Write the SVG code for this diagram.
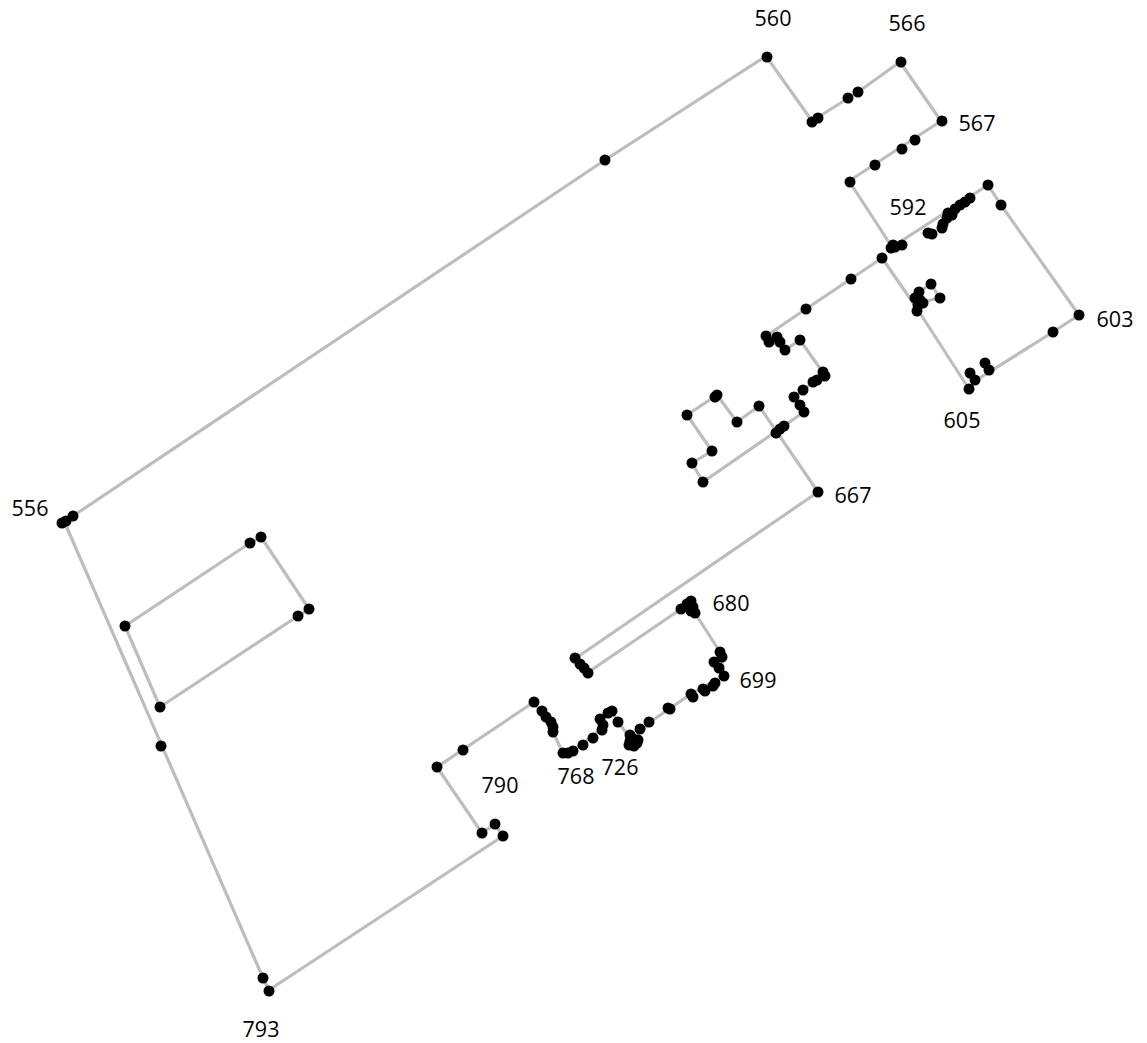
<svg xmlns="http://www.w3.org/2000/svg" width="1147" height="1043" viewBox="0 0 1147 1043">
<style>
.e{fill:none;stroke:#bdbdbd;stroke-width:3.2;stroke-linejoin:round}
.n circle{fill:#000}
.n text{font-family:"Open Sans","Noto Sans",sans-serif;font-size:21.5px;fill:#000;text-anchor:middle}
</style>
<rect width="1147" height="1043" fill="#fff"/>
<g id="connectors">
<path class="e" d="M64,521 L73,516 L605,160 L766,56 L812,121 L858,92 L900,62 L941,121 L849,181 L892,247 L988,185 L1001,205 L1079,315 L1053,332 L975,381 L969,389 L918,310 L882,258 L806,309 L766,336 L770,341 L785,350 L800,340 L824,374 L794,397 L804,412 L703,482 L692,463 L712,451 L687,415 L717,395 L737,422 L759,406 L818,492 L576,658 L587,673 L681,609 L690,602 L695,613 L720,652 L724,676 L691,694 L650,722 L632,740 L618,722 L612,711 L600,719 L603,728 L573,751 L563,753 L553,732 L534,702 L437,767 L482,833 L495,824 L503,836 L269,990 L263,978 Z"/>
<path class="e" d="M921,302 L940,298 L931,284 L919,292"/>
<path class="e" d="M125,626 L250,543 L261,537 L309,609 L298,616 L160,707 Z"/>
</g>
<g class="n">
<g id="n556"><circle cx="62" cy="523" r="5.5"/><circle cx="66" cy="521" r="5.5"/><circle cx="73" cy="516" r="5.5"/><text x="30" y="516">556</text></g>
<g id="n557"><circle cx="605" cy="160" r="5.5"/></g>
<g id="n560"><circle cx="767" cy="57" r="5.5"/><text x="773" y="26">560</text></g>
<g id="n561"><circle cx="812" cy="122" r="5.5"/><circle cx="818" cy="118" r="5.5"/></g>
<g id="n563"><circle cx="848" cy="98" r="5.5"/><circle cx="858" cy="92" r="5.5"/></g>
<g id="n566"><circle cx="901" cy="62" r="5.5"/><text x="907" y="31">566</text></g>
<g id="n567"><circle cx="942" cy="121" r="5.5"/><text x="977" y="131">567</text></g>
<g id="n570"><circle cx="915" cy="140" r="5.5"/><circle cx="902" cy="149" r="5.5"/><circle cx="875" cy="165" r="5.5"/><circle cx="850" cy="182" r="5.5"/></g>
<g id="n592"><circle cx="891" cy="248" r="5.5"/><circle cx="893" cy="245" r="5.5"/><circle cx="895" cy="247" r="5.5"/><circle cx="902" cy="245" r="5.5"/><circle cx="928" cy="233" r="5.5"/><circle cx="932" cy="234" r="5.5"/><circle cx="942" cy="228" r="5.5"/><circle cx="943" cy="224" r="5.5"/><circle cx="947" cy="218" r="5.5"/><circle cx="948" cy="213" r="5.5"/><circle cx="952" cy="215" r="5.5"/><circle cx="955" cy="209" r="5.5"/><circle cx="960" cy="205" r="5.5"/><circle cx="965" cy="202" r="5.5"/><circle cx="970" cy="198" r="5.5"/><text x="908" y="215">592</text></g>
<g id="n600"><circle cx="988" cy="185" r="5.5"/><circle cx="1001" cy="205" r="5.5"/></g>
<g id="n603"><circle cx="1079" cy="315" r="5.5"/><circle cx="1053" cy="332" r="5.5"/><text x="1115" y="327">603</text></g>
<g id="n605"><circle cx="985" cy="363" r="5.5"/><circle cx="989" cy="370" r="5.5"/><circle cx="970" cy="373" r="5.5"/><circle cx="975" cy="380" r="5.5"/><circle cx="969" cy="389" r="5.5"/><text x="962" y="428">605</text></g>
<g id="n610"><circle cx="931" cy="284" r="5.5"/><circle cx="940" cy="298" r="5.5"/><circle cx="919" cy="292" r="5.5"/><circle cx="915" cy="298" r="5.5"/><circle cx="920" cy="300" r="5.5"/><circle cx="918" cy="305" r="5.5"/><circle cx="917" cy="311" r="5.5"/><circle cx="923" cy="303" r="5.5"/></g>
<g id="n620"><circle cx="882" cy="258" r="5.5"/><circle cx="851" cy="279" r="5.5"/><circle cx="806" cy="309" r="5.5"/></g>
<g id="n630"><circle cx="766" cy="336" r="5.5"/><circle cx="769" cy="342" r="5.5"/><circle cx="777" cy="337" r="5.5"/><circle cx="780" cy="342" r="5.5"/><circle cx="785" cy="350" r="5.5"/><circle cx="800" cy="340" r="5.5"/></g>
<g id="n640"><circle cx="823" cy="372" r="5.5"/><circle cx="825" cy="376" r="5.5"/><circle cx="813" cy="382" r="5.5"/><circle cx="817" cy="380" r="5.5"/><circle cx="803" cy="390" r="5.5"/><circle cx="794" cy="397" r="5.5"/><circle cx="800" cy="405" r="5.5"/><circle cx="804" cy="412" r="5.5"/></g>
<g id="n650"><circle cx="776" cy="433" r="5.5"/><circle cx="780" cy="429" r="5.5"/><circle cx="784" cy="426" r="5.5"/><circle cx="759" cy="406" r="5.5"/><circle cx="737" cy="422" r="5.5"/><circle cx="717" cy="395" r="5.5"/><circle cx="715" cy="397" r="5.5"/><circle cx="687" cy="415" r="5.5"/><circle cx="712" cy="451" r="5.5"/><circle cx="692" cy="463" r="5.5"/><circle cx="703" cy="482" r="5.5"/></g>
<g id="n667"><circle cx="818" cy="492" r="5.5"/><text x="853" y="503">667</text></g>
<g id="n670"><circle cx="575" cy="658" r="5.5"/><circle cx="580" cy="664" r="5.5"/><circle cx="584" cy="668" r="5.5"/><circle cx="588" cy="673" r="5.5"/></g>
<g id="n680"><circle cx="681" cy="609" r="5.5"/><circle cx="687" cy="604" r="5.5"/><circle cx="691" cy="601" r="5.5"/><circle cx="693" cy="607" r="5.5"/><circle cx="695" cy="613" r="5.5"/><circle cx="691" cy="611" r="5.5"/><text x="731" y="611">680</text></g>
<g id="n699"><circle cx="720" cy="652" r="5.5"/><circle cx="722" cy="657" r="5.5"/><circle cx="714" cy="662" r="5.5"/><circle cx="719" cy="668" r="5.5"/><circle cx="724" cy="676" r="5.5"/><circle cx="715" cy="683" r="5.5"/><circle cx="713" cy="686" r="5.5"/><circle cx="703" cy="689" r="5.5"/><circle cx="705" cy="691" r="5.5"/><circle cx="691" cy="694" r="5.5"/><circle cx="693" cy="697" r="5.5"/><text x="758" y="688">699</text></g>
<g id="n710"><circle cx="670" cy="709" r="5.5"/><circle cx="668" cy="708" r="5.5"/><circle cx="649" cy="722" r="5.5"/><circle cx="640" cy="729" r="5.5"/></g>
<g id="n726"><circle cx="632" cy="738" r="5.5"/><circle cx="637" cy="743" r="5.5"/><circle cx="630" cy="735" r="5.5"/><circle cx="629" cy="745" r="5.5"/><circle cx="634" cy="746" r="5.5"/><circle cx="630" cy="741" r="5.5"/><circle cx="638" cy="740" r="5.5"/><text x="620" y="775">726</text></g>
<g id="n740"><circle cx="618" cy="722" r="5.5"/><circle cx="612" cy="711" r="5.5"/><circle cx="608" cy="713" r="5.5"/><circle cx="600" cy="719" r="5.5"/><circle cx="603" cy="725" r="5.5"/><circle cx="602" cy="730" r="5.5"/><circle cx="593" cy="738" r="5.5"/><circle cx="583" cy="745" r="5.5"/></g>
<g id="n768"><circle cx="573" cy="751" r="5.5"/><circle cx="568" cy="753" r="5.5"/><circle cx="563" cy="753" r="5.5"/><text x="576" y="784">768</text></g>
<g id="n770"><circle cx="553" cy="732" r="5.5"/><circle cx="553" cy="727" r="5.5"/><circle cx="551" cy="722" r="5.5"/><circle cx="546" cy="717" r="5.5"/><circle cx="542" cy="711" r="5.5"/><circle cx="534" cy="702" r="5.5"/></g>
<g id="n780"><circle cx="463" cy="750" r="5.5"/><circle cx="437" cy="767" r="5.5"/></g>
<g id="n790"><circle cx="482" cy="833" r="5.5"/><circle cx="495" cy="824" r="5.5"/><circle cx="503" cy="836" r="5.5"/><text x="500" y="793">790</text></g>
<g id="n793"><circle cx="263" cy="978" r="5.5"/><circle cx="269" cy="991" r="5.5"/><text x="261" y="1037">793</text></g>
<g id="n795"><circle cx="161" cy="746" r="5.5"/></g>
<g id="n800"><circle cx="125" cy="626" r="5.5"/><circle cx="250" cy="543" r="5.5"/><circle cx="261" cy="537" r="5.5"/><circle cx="309" cy="609" r="5.5"/><circle cx="298" cy="616" r="5.5"/><circle cx="160" cy="707" r="5.5"/></g>
</g>
</svg>
